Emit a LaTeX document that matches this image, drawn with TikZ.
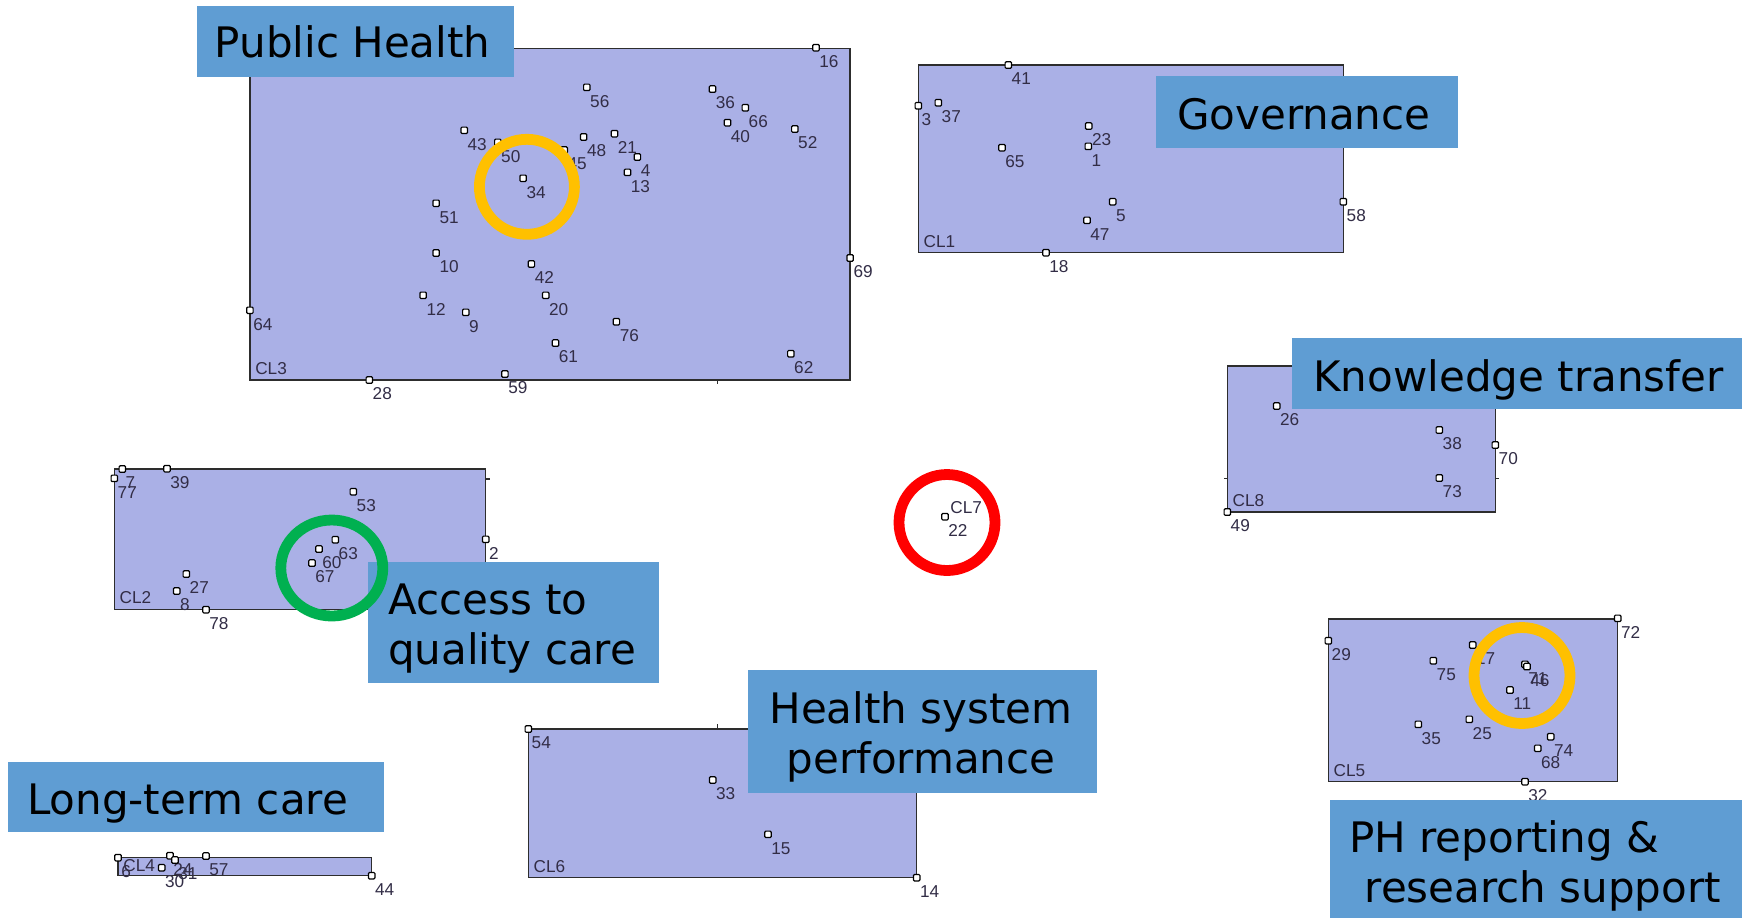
\documentclass[tikz,border=0pt]{standalone}
\usepackage{fontspec}
\setmainfont{DejaVu Sans}
\newfontfamily\tagfont{DejaVu Sans}
\newfontfamily\numfont{Liberation Sans}
\definecolor{clfill}{RGB}{170,176,230}
\definecolor{clline}{RGB}{45,45,45}
\definecolor{tagblue}{RGB}{95,157,211}
\definecolor{numcol}{RGB}{50,45,70}
\definecolor{goldring}{RGB}{255,192,0}
\definecolor{greenring}{RGB}{0,176,80}
\definecolor{redring}{RGB}{255,0,0}
\begin{document}
\begin{tikzpicture}[x=0.5pt,y=-0.5pt,
  cluster/.style={draw=clline, line width=0.75pt, fill=clfill},
  axtick/.style={draw=clline, line width=0.7pt},
  ptmark/.style={draw=black, fill=white, line width=0.6pt, minimum size=3.2pt, inner sep=0pt, rounded corners=0.5pt},
  ptlab/.style={font=\numfont\fontsize{8.6}{9}\selectfont, text=numcol, inner sep=0pt, anchor=north west},
  cllab/.style={font=\numfont\fontsize{8.6}{9}\selectfont, text=numcol, inner sep=0pt, anchor=base west},
  tagbox/.style={fill=tagblue},
  tagtext/.style={font=\tagfont\fontsize{21}{25}\selectfont, text=black, inner sep=0pt},
  ring/.style={line width=5.4pt}]

\useasboundingbox (0,0) rectangle (1742,918);
\fill[white] (0,0) rectangle (1742,918);

% clusters
\path[cluster] (249.9,48.3) rectangle (850.1,380);
\path[cluster] (918.3,65) rectangle (1343.3,252.7);
\path[cluster] (1227.3,366) rectangle (1495.3,512);
\path[cluster] (114.3,469) rectangle (485.7,609.3);
\path[cluster] (1328.3,619) rectangle (1617.7,781.7);
\path[cluster] (528.3,729) rectangle (916.7,877.7);
\path[cluster] (118,857.5) rectangle (371.7,875.7);

% axis ticks
\path[axtick] (717.7,380) -- (717.7,384);
\path[axtick] (717.7,729) -- (717.7,724);
\path[axtick] (485.7,479) -- (490,479);
\path[axtick] (1227.3,478.3) -- (1223.5,478.3);
\path[axtick] (1495.3,478.3) -- (1499,478.3);

% cluster labels
\node[cllab] (cl3) at (254.9,374.5) {CL3};
\node[cllab] (cl1) at (923.3,247.2) {CL1};
\node[cllab] (cl8) at (1232.3,506.5) {CL8};
\node[cllab] (cl2) at (119.3,603.8) {CL2};
\node[cllab] (cl5) at (1333.3,776.2) {CL5};
\node[cllab] (cl6) at (533.3,872.2) {CL6};
\node[cllab] (cl4) at (123,871.2) {CL4};
\node[cllab] (cl7) at (950,513) {CL7};

% points
\foreach \t/\px/\py [count=\i] in {
  16/816/47.7, 56/586.8/87.3, 36/712.5/89, 66/745.3/107.7, 40/727.5/122.7,
  52/794.8/129, 43/464.2/130.3, 50/497.8/142.3, 45/564.2/150, 48/583.6/137,
  21/614.5/133.7, 4/637.4/157, 13/627.5/172.3, 34/523.1/178.3, 51/436.1/203.3,
  10/436.1/253, 42/531.4/264, 12/423.1/295.3, 20/545.7/295.3, 9/465.8/312.3,
  76/616.4/321.7, 61/555.5/343, 64/249.9/310.3, 62/790.8/353.7, 28/369.3/380,
  59/504.9/374, 69/850.1/258,
  41/1008.3/65, 3/918.3/105.7, 37/938.3/102.7, 23/1088.7/126, 1/1088.3/146.3,
  65/1002/147.7, 5/1112.7/201.7, 47/1087/220.3, 58/1343.3/201.7, 18/1046/252.7,
  26/1276.7/406, 38/1439.3/430, 70/1495.3/445, 73/1439.3/478, 49/1227.3/512,
  7/122.3/469, 77/114.3/478.3, 39/167/468.7, 53/353.3/491.7, 63/335.3/539.7,
  60/319/549, 67/312/563, 2/485.7/539.3, 27/186.3/574, 8/176.7/591, 78/206/609.7,
  72/1617.7/618.3, 29/1328.3/640.7, 75/1433.3/660.7, 17/1472.7/645,
  71/1525/664.3, 46/1527/666.5, 11/1510/690, 35/1418.3/724.3, 25/1469.3/719.3,
  74/1550.7/736.7, 68/1537.7/748.3, 32/1525/781.7,
  54/528.3/729, 33/712.7/780, 15/768/834.3, 14/916.7/877.7,
  6/118/857.7, 30/161.7/867.7, 24/170/855.7, 31/175/860, 57/206/856, 44/371.7/875.7,
  22/945/516.7} {
  \node[ptmark] (p\i) at (\px,\py) {};
  \node[ptlab] (l\i) at (\px+3,\py+7.5) {\t};
}

% category tags
\path[tagbox] (196.6,5.6) rectangle (514,76.5);
\node[tagtext, anchor=base west] (tph) at (214.4,57) {Public Health};
\path[tagbox] (1156,76) rectangle (1457.7,147.7);
\node[tagtext, anchor=base west] (tgov) at (1176.7,129) {Governance};
\path[tagbox] (1291.7,338) rectangle (1742,409.3);
\node[tagtext, anchor=base west] (tkt) at (1313,391) {Knowledge transfer};
\path[tagbox] (367.7,562) rectangle (658.8,683);
\node[tagtext, anchor=base west] (tacc1) at (387.7,614.5) {Access to};
\node[tagtext, anchor=base west] (tacc2) at (387.7,664.5) {quality care};
\path[tagbox] (748.3,670) rectangle (1096.6,792.7);
\node[tagtext, anchor=base] (thsp1) at (921,723.3) {Health system};
\node[tagtext, anchor=base] (thsp2) at (921,773.3) {performance};
\path[tagbox] (7.8,762) rectangle (384.4,832);
\node[tagtext, anchor=base west] (tltc) at (26.7,814) {Long-term care};
\path[tagbox] (1330,800) rectangle (1742,918);
\node[tagtext, anchor=base west] (tph1) at (1348.8,852.5) {PH reporting \&};
\node[tagtext, anchor=base west] (tph2) at (1364.3,902.5) {research support};

% highlight rings
\draw[ring, goldring] (526.9,186.8) circle[radius=47.5];
\draw[ring, greenring] (331.8,568) ellipse[x radius=51, y radius=48];
\draw[ring, redring] (947,522.5) circle[radius=48];
\draw[ring, goldring] (1522,675.5) circle[radius=48];
\end{tikzpicture}
\end{document}
